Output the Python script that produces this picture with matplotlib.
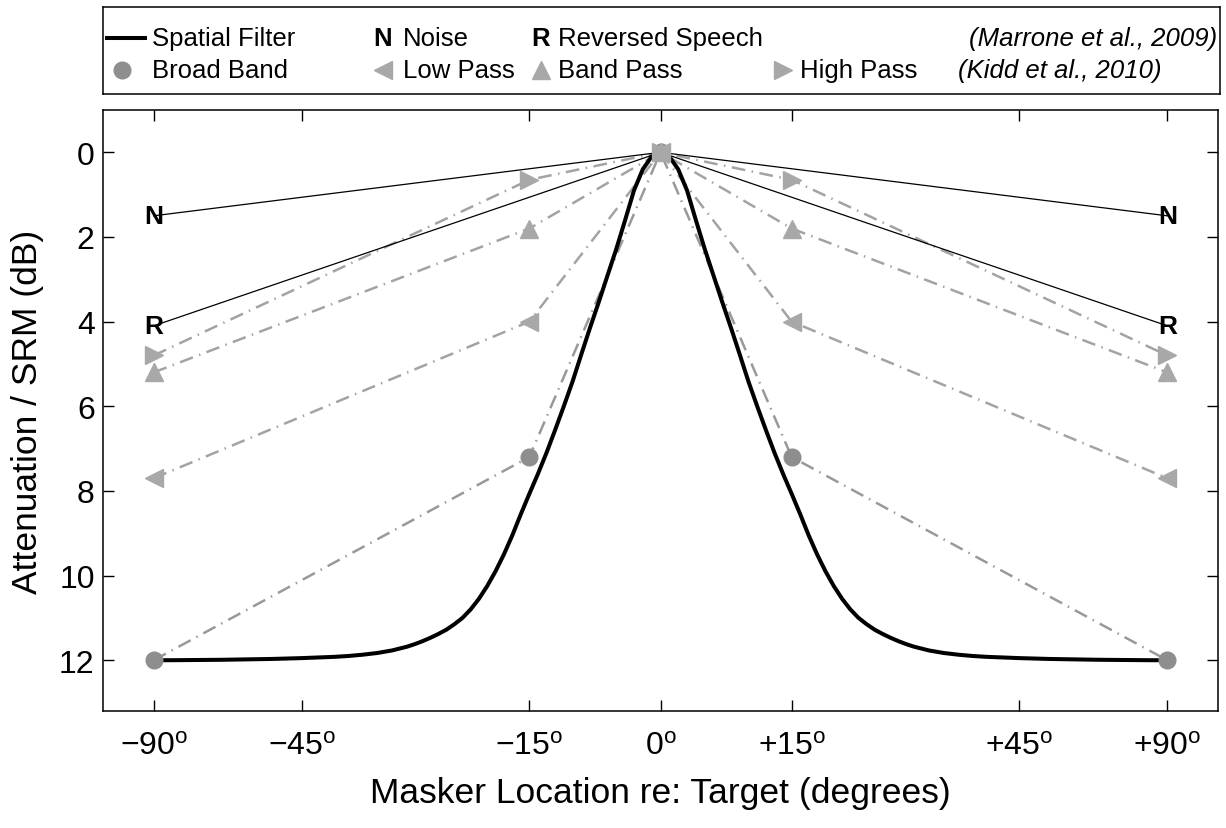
import numpy as np
import matplotlib
matplotlib.use('Agg')
import matplotlib.pyplot as plt

plt.rcParams['font.family'] = ['Liberation Sans', 'DejaVu Sans']
plt.rcParams['mathtext.fontset'] = 'custom'
plt.rcParams['mathtext.rm'] = 'Liberation Sans'
plt.rcParams['mathtext.it'] = 'Liberation Sans:italic'
plt.rcParams['mathtext.bf'] = 'Liberation Sans:bold'

# ---------------- data ----------------
angles = [-90, -15, 0, 15, 90]
broad_band = [12.0, 7.2, 0.0, 7.2, 12.0]
low_pass = [7.7, 4.0, 0.0, 4.0, 7.7]
band_pass = [5.2, 1.8, 0.0, 1.8, 5.2]
high_pass = [4.8, 0.65, 0.0, 0.65, 4.8]

nr_angles = [-90, 0, 90]
noise = [1.5, 0.0, 1.5]
reversed_speech = [4.1, 0.0, 4.1]

# spatial filter curve (symmetric about 0)
filter_angles_half = [0, 1, 2, 3, 4, 5, 6, 7, 8, 9, 10, 11, 12, 13, 14, 15, 16, 17,
                      18, 19, 20, 21, 22, 23, 24, 25, 26, 27, 28, 29, 30, 32, 34,
                      36, 38, 40, 45, 50, 60, 75, 90]
filter_atten_half = [0.0, 0.1, 0.4, 0.9, 1.6, 2.28, 2.91, 3.54, 4.15, 4.78, 5.42, 6.0,
                     6.56, 7.1, 7.6, 8.07, 8.55, 9.05, 9.5, 9.9, 10.25, 10.55, 10.8,
                     11.0, 11.15, 11.28, 11.38, 11.47, 11.55, 11.62, 11.68, 11.77,
                     11.83, 11.87, 11.9, 11.92, 11.95, 11.97, 11.99, 12.0, 12.0]

tick_angles = [-90, -45, -15, 0, 15, 45, 90]
tick_labels = [r'$-90^{\mathrm{o}}$', r'$-45^{\mathrm{o}}$', r'$-15^{\mathrm{o}}$',
               r'$0^{\mathrm{o}}$', r'$+15^{\mathrm{o}}$', r'$+45^{\mathrm{o}}$',
               r'$+90^{\mathrm{o}}$']
ytick_values = [0, 2, 4, 6, 8, 10, 12]

filter_angles = [-a for a in filter_angles_half[::-1]] + filter_angles_half[1:]
filter_atten = filter_atten_half[::-1] + filter_atten_half[1:]

# ---------------- scale: sine of the angle ----------------
EXT = 100.0

def fwd(d):
    d = np.asarray(d, dtype=float)
    s = np.sin(np.radians(np.clip(d, -90, 90)))
    ext = np.sign(d) * (1 + (np.abs(d) - 90) / EXT)
    return np.where(np.abs(d) <= 90, s, ext)

def inv(x):
    x = np.asarray(x, dtype=float)
    a = np.degrees(np.arcsin(np.clip(x, -1, 1)))
    ext = np.sign(x) * (90 + (np.abs(x) - 1) * EXT)
    return np.where(np.abs(x) <= 1, a, ext)

W, H = 1226, 829
fig = plt.figure(figsize=(W / 100, H / 100), dpi=100)

ax_l, ax_r, ax_t, ax_b = 103, 1218, 111, 712
ax = fig.add_axes([ax_l / W, 1 - ax_b / H, (ax_r - ax_l) / W, (ax_b - ax_t) / H])
ax.set_xscale('function', functions=(fwd, inv))
ax.set_xlim(-100, 100)
ax.set_ylim(13.2, -1.0)

grey_line = '#a3a3a3'
bb_line = '#999999'
tri_col = '#a8a8a8'
circ_col = '#8e8e8e'
dashdot = (0, (5.5, 2.6, 0.6, 2.6))
lw_g = 1.8

ax.plot(angles, broad_band, color=bb_line, lw=lw_g, ls=dashdot, zorder=2)
for vals in (low_pass, band_pass, high_pass):
    ax.plot(angles, vals, color=grey_line, lw=lw_g, ls=dashdot, zorder=2)

ax.plot(nr_angles, noise, color='black', lw=0.9, zorder=2.5)
ax.plot(nr_angles, reversed_speech, color='black', lw=0.9, zorder=2.5)

ax.plot(filter_angles, filter_atten, color='black', lw=2.9, zorder=3,
        solid_capstyle='butt', solid_joinstyle='round')

ax.plot(angles, broad_band, ls='none', marker='o', ms=12, color=circ_col,
        mec=circ_col, zorder=4)
ax.plot(angles, low_pass, ls='none', marker='<', ms=13, color=tri_col, mec=tri_col, zorder=4)
ax.plot(angles, band_pass, ls='none', marker='^', ms=13, color=tri_col, mec=tri_col, zorder=4)
ax.plot(angles, high_pass, ls='none', marker='>', ms=13, color=tri_col, mec=tri_col, zorder=4)

for a, v in zip(nr_angles, noise):
    if a != 0:
        ax.text(a, v, 'N', fontsize=19, fontweight='bold', ha='center', va='center',
                zorder=5)
for a, v in zip(nr_angles, reversed_speech):
    if a != 0:
        ax.text(a, v, 'R', fontsize=19, fontweight='bold', ha='center', va='center',
                zorder=5)

ax.set_xticks(tick_angles)
ax.set_xticklabels(tick_labels)
ax.xaxis.set_minor_locator(matplotlib.ticker.NullLocator())
ax.set_yticks(ytick_values)
ax.set_yticklabels([str(v) for v in ytick_values])
ax.tick_params(axis='both', direction='in', length=8, width=1.0, top=True,
               right=True, labelsize=23)
ax.tick_params(axis='x', pad=14)
ax.tick_params(axis='y', pad=6)
for sp in ax.spines.values():
    sp.set_linewidth(1.1)

ax.set_xlabel('Masker Location re: Target (degrees)', fontsize=25.5, labelpad=11)
ax.set_ylabel('Attenuation / SRM (dB)', fontsize=25.5, labelpad=11)

# ---------------- legend box ----------------
lg_l, lg_r, lg_t, lg_b = 103, 1220, 8, 95
lax = fig.add_axes([lg_l / W, 1 - lg_b / H, (lg_r - lg_l) / W, (lg_b - lg_t) / H])
lax.set_xlim(lg_l, lg_r)
lax.set_ylim(lg_b, lg_t)
lax.set_xticks([])
lax.set_yticks([])
for sp in lax.spines.values():
    sp.set_linewidth(1.1)

r1, r2 = 39, 71
fs = 18.5
lax.plot([107, 145], [r1, r1], color='black', lw=2.9)
lax.text(152, r1, 'Spatial Filter', fontsize=fs, va='center')
lax.text(383, r1, 'N', fontsize=fs, fontweight='bold', va='center', ha='center')
lax.text(403, r1, 'Noise', fontsize=fs, va='center')
lax.text(541, r1, 'R', fontsize=fs, fontweight='bold', va='center', ha='center')
lax.text(558, r1, 'Reversed Speech', fontsize=fs, va='center')
lax.text(1217, r1, '(Marrone et al., 2009)', fontsize=fs, style='italic',
         va='center', ha='right')

lax.plot([122], [r2], marker='o', ms=12, color=circ_col, ls='none')
lax.text(152, r2, 'Broad Band', fontsize=fs, va='center')
lax.plot([383], [r2], marker='<', ms=13, color=tri_col, ls='none')
lax.text(403, r2, 'Low Pass', fontsize=fs, va='center')
lax.plot([541], [r2], marker='^', ms=13, color=tri_col, ls='none')
lax.text(558, r2, 'Band Pass', fontsize=fs, va='center')
lax.plot([783], [r2], marker='>', ms=13, color=tri_col, ls='none')
lax.text(800, r2, 'High Pass', fontsize=fs, va='center')
lax.text(958, r2, '(Kidd et al., 2010)', fontsize=fs, style='italic', va='center')

fig.savefig('out.png', dpi=100)
